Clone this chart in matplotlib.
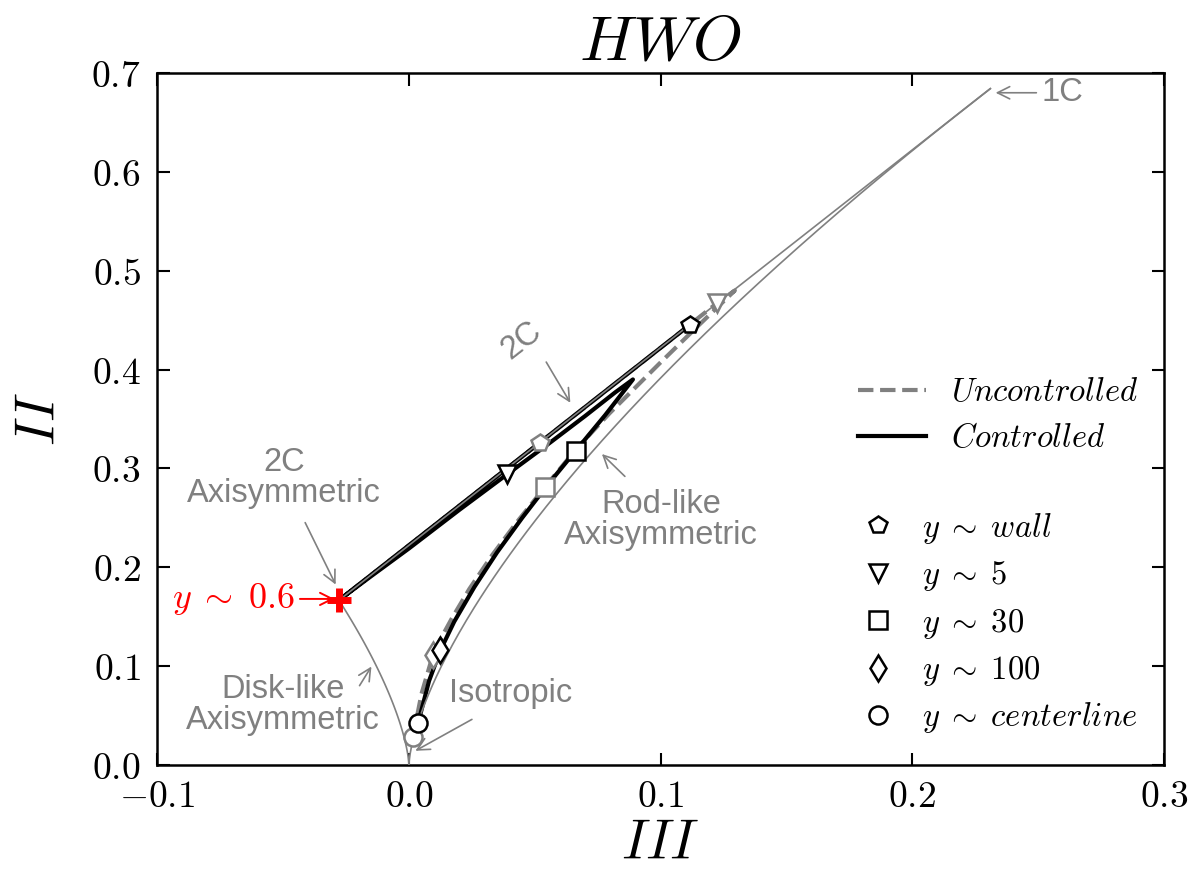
import numpy as np
import matplotlib
matplotlib.use('Agg')
import matplotlib.pyplot as plt
from matplotlib.lines import Line2D

# anisotropy invariant map (Lumley triangle), HWO case
# corner points of the triangle
iso_pt = [0.0, 0.0]
axi2c_pt = [-1.0 / 36, 1.0 / 6]
end_III = 0.231  # boundary curves are drawn a bit past the 1C corner

# controlled run: wall -> y~0.6 -> ... -> centerline
ctrl_III = [0.1115, -0.0278, -0.015, 0.0, 0.02, 0.039, 0.055, 0.070, 0.082, 0.089,
            0.078, 0.0663, 0.055, 0.045, 0.035, 0.026, 0.018, 0.0125, 0.008, 0.0036]
ctrl_II = [0.445, 0.1667, 0.191, 0.219, 0.258, 0.294, 0.324, 0.353, 0.377, 0.390,
           0.354, 0.318, 0.283, 0.250, 0.215, 0.180, 0.145, 0.116, 0.085, 0.042]

# uncontrolled run
unc_III = [0.052, -0.0278, 0.0, 0.05, 0.1, 0.1223, 0.1295, 0.1144, 0.0997, 0.0798,
           0.0666, 0.054, 0.043, 0.033, 0.024, 0.017, 0.0125, 0.0095, 0.005, 0.0016]
unc_II = [0.326, 0.1667, 0.222, 0.322, 0.422, 0.467, 0.480, 0.443, 0.4065, 0.356,
          0.320, 0.281, 0.246, 0.212, 0.178, 0.148, 0.127, 0.111, 0.072, 0.028]

# marked wall distances: wall, 5, 30, 100, centerline
mark_names = [r'$y\;\sim\;wall$', r'$y\;\sim\;5$', r'$y\;\sim\;30$', r'$y\;\sim\;100$',
              r'$y\;\sim\;centerline$']
mark_shapes = ['p', 'v', 's', 'd', 'o']
ctrl_mark_III = [0.1115, 0.039, 0.0663, 0.0125, 0.0036]
ctrl_mark_II = [0.445, 0.294, 0.318, 0.116, 0.042]
unc_mark_III = [0.052, 0.1223, 0.054, 0.0095, 0.0016]
unc_mark_II = [0.326, 0.467, 0.281, 0.111, 0.028]

xticks = [-0.1, 0.0, 0.1, 0.2, 0.3]
yticks = [0.0, 0.1, 0.2, 0.3, 0.4, 0.5, 0.6, 0.7]

plt.rcParams['mathtext.fontset'] = 'cm'
gray = '#808080'
sans = 'Liberation Sans'
fs_note = 23.5

fig = plt.figure(figsize=(12, 8.73), dpi=100)
ax = fig.add_axes([0.131, 0.1237, 0.839, 0.7927])

# boundaries from the eigenvalues of b_ij: axisymmetric b = diag(a, -a/2, -a/2)
a_rod = np.linspace(0, (end_III / 0.75) ** (1.0 / 3), 200)
a_disk = np.linspace(-1.0 / 3, 0, 100)
ax.plot(0.75 * a_rod ** 3, 1.5 * a_rod ** 2, color=gray, lw=1.2, zorder=3)
ax.plot(0.75 * a_disk ** 3, 1.5 * a_disk ** 2, color=gray, lw=1.2, zorder=3)
# two-component line: II = 2*III + 2/9
c2_III = np.array([axi2c_pt[0], end_III])
ax.plot(c2_III, 2 * c2_III + 2.0 / 9, color=gray, lw=1.2, zorder=3)

ax.plot(unc_III, unc_II, '--', color=gray, lw=3, zorder=2)
ax.plot(ctrl_III, ctrl_II, '-', color='black', lw=3, zorder=2.5)

for i in range(5):
    ax.plot(unc_mark_III[i], unc_mark_II[i], mark_shapes[i], ms=13, mfc='white',
            mec=gray, mew=1.8, zorder=4)
    ax.plot(ctrl_mark_III[i], ctrl_mark_II[i], mark_shapes[i], ms=13, mfc='white',
            mec='black', mew=1.8, zorder=4)

ax.plot(axi2c_pt[0], axi2c_pt[1], '+', color='red', ms=17, mew=5, zorder=5)

# annotations
arr = dict(arrowstyle='->', color=gray, lw=1.2, mutation_scale=22)
ax.annotate('1C', xy=(0.232, 0.680), xytext=(0.2515, 0.680), color=gray, fontsize=fs_note,
            family=sans, ha='left', va='center', arrowprops=arr)
ax.annotate('2C', xy=(0.0647, 0.364), xytext=(0.0449, 0.4297), color=gray, fontsize=fs_note,
            family=sans, ha='center', va='center', rotation=38)
ax.annotate('', xy=(0.0647, 0.364), xytext=(0.054, 0.41), arrowprops=arr)
ax.annotate('Rod-like\nAxisymmetric', xy=(0.0759, 0.3165), xytext=(0.1001, 0.2477),
            color=gray, fontsize=fs_note, family=sans, ha='center', va='center',
            linespacing=1.0)
ax.annotate('', xy=(0.0759, 0.3165), xytext=(0.0866, 0.290), arrowprops=arr)
ax.annotate('2C\nAxisymmetric', xy=(-0.0286, 0.180), xytext=(-0.0497, 0.290),
            color=gray, fontsize=fs_note, family=sans, ha='center', va='center',
            linespacing=1.0)
ax.annotate('', xy=(-0.0286, 0.180), xytext=(-0.0417, 0.2477), arrowprops=arr)
ax.annotate('Disk-like\nAxisymmetric', xy=(-0.0143, 0.102), xytext=(-0.050, 0.0607),
            color=gray, fontsize=fs_note, family=sans, ha='center', va='center',
            linespacing=1.0)
ax.annotate('', xy=(-0.0143, 0.102), xytext=(-0.0202, 0.0779), arrowprops=arr)
ax.annotate('Isotropic', xy=(0.0016, 0.013), xytext=(0.0405, 0.0728), color=gray,
            fontsize=fs_note, family=sans, ha='center', va='center')
ax.annotate('', xy=(0.0016, 0.013), xytext=(0.026, 0.0475), arrowprops=arr)
ax.annotate(r'$y\;\sim\;0.6$', xy=(-0.0285, 0.168), xytext=(-0.0455, 0.168), color='red',
            fontsize=26, ha='right', va='center',
            arrowprops=dict(arrowstyle='->', color='red', lw=1.4, mutation_scale=22))

ax.set_xlim(-0.1, 0.3)
ax.set_ylim(0.0, 0.7)
ax.set_xticks(xticks)
ax.set_yticks(yticks)
ax.set_xticklabels([r'$%.1f$' % v for v in xticks])
ax.set_yticklabels([r'$%.1f$' % v for v in yticks])
ax.tick_params(direction='in', length=9, width=1.5, top=True, right=True, labelsize=27)
ax.tick_params(axis='x', pad=10)
ax.tick_params(axis='y', pad=12)
for s in ax.spines.values():
    s.set_linewidth(1.8)

ax.set_xlabel(r'$III$', fontsize=40)
ax.set_ylabel(r'$II$', fontsize=40)
ax.xaxis.set_label_coords(0.5, -0.075)
ax.yaxis.set_label_coords(-0.09, 0.5)
ax.set_title(r'$HWO$', fontsize=46, pad=10)

line_handles = [Line2D([], [], ls='--', color=gray, lw=3),
                Line2D([], [], ls='-', color='black', lw=3)]
leg1 = ax.legend(line_handles, [r'$Uncontrolled$', r'$Controlled$'], loc='center left',
                 bbox_to_anchor=(0.696, 0.506), frameon=False, fontsize=23.5,
                 handlelength=2.1, handletextpad=0.75, labelspacing=0.4,
                 borderpad=0, borderaxespad=0)
ax.add_artist(leg1)

mark_handles = [Line2D([], [], ls='none', marker=m, ms=13, mfc='white', mec='black',
                       mew=1.8) for m in mark_shapes]
ax.legend(mark_handles, mark_names, loc='center left', bbox_to_anchor=(0.705, 0.205),
          frameon=False, fontsize=23.5, handlelength=0.7, handletextpad=1.0,
          labelspacing=0.38, borderpad=0, borderaxespad=0)

fig.savefig('out.png', dpi=100)
